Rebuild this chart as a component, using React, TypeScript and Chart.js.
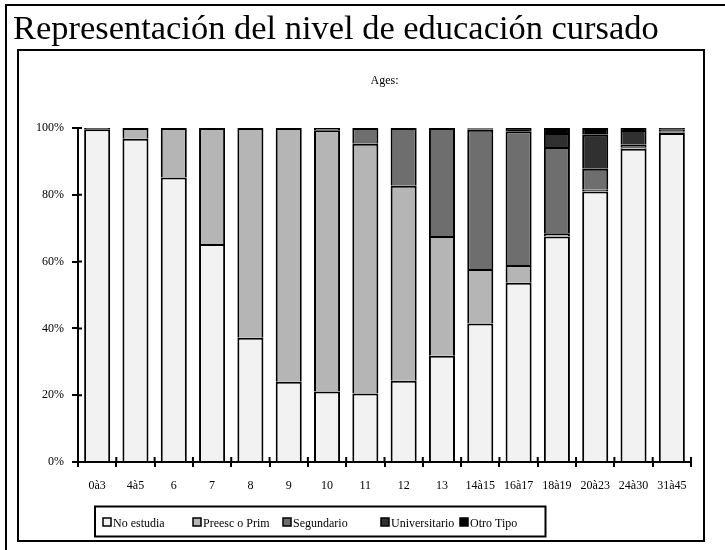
import React, { useEffect, useRef } from 'react';
import { Chart, registerables } from 'chart.js';

Chart.register(...registerables);

const categories = ['0à3', '4à5', '6', '7', '8', '9', '10', '11', '12', '13', '14à15', '16à17', '18à19', '20à23', '24à30', '31à45'];
const noEstudia = [99.6, 96.8, 85.2, 65.3, 37.2, 24.0, 21.1, 20.5, 24.3, 31.8, 41.5, 53.7, 67.5, 81.0, 93.8, 98.5];
const preescPrim = [0.4, 3.2, 14.8, 34.7, 62.8, 76.0, 78.2, 74.8, 58.4, 35.9, 16.3, 5.3, 1.0, 0.5, 0.4, 0.2];
const segundario = [0, 0, 0, 0, 0, 0, 0.7, 4.7, 17.3, 32.3, 41.7, 40.0, 25.8, 6.3, 0.8, 0.3];
const universitario = [0, 0, 0, 0, 0, 0, 0, 0, 0, 0, 0.3, 0, 4.2, 10.2, 4.4, 0.6];
const otroTipo = [0, 0, 0, 0, 0, 0, 0, 0, 0, 0, 0.2, 1.0, 1.5, 2.0, 0.6, 0.4];

const seriesLabels = ['No estudia', 'Preesc o Prim', 'Segundario', 'Universitario', 'Otro Tipo'];
const seriesData = [noEstudia, preescPrim, segundario, universitario, otroTipo];
const seriesColors = ['#f2f2f2', '#b5b5b5', '#6e6e6e', '#303030', '#000000'];

const titleText = 'Representación del nivel de educación cursado';
const axisTitle = 'Ages:';

const FONT = '"Liberation Serif", "Times New Roman", serif';
const LEGEND_X = [103, 193, 283, 381, 460];

const framePlugin = {
  id: 'framePlugin',
  beforeDraw(chart: any) {
    const ctx = chart.ctx;
    ctx.save();
    ctx.fillStyle = '#ffffff';
    ctx.fillRect(0, 0, chart.width, chart.height);
    ctx.strokeStyle = '#000';
    ctx.lineWidth = 2;
    ctx.beginPath();
    ctx.moveTo(6, chart.height + 2);
    ctx.lineTo(6, 5);
    ctx.lineTo(chart.width + 2, 5);
    ctx.stroke();
    ctx.strokeRect(18, 50, 686, 491);
    const ca = chart.chartArea;
    ctx.fillStyle = '#000';
    ctx.font = `12px ${FONT}`;
    ctx.textAlign = 'center';
    ctx.textBaseline = 'alphabetic';
    ctx.fillText(axisTitle, (ca.left + ca.right) / 2, 84);
    ctx.restore();
  },
  afterDraw(chart: any) {
    const ctx = chart.ctx;
    const xs = chart.scales.x;
    const ys = chart.scales.y;
    ctx.save();
    ctx.strokeStyle = '#000';
    ctx.lineWidth = 2;
    ctx.beginPath();
    ys.ticks.forEach((_t: any, i: number) => {
      const py = ys.getPixelForTick(i);
      ctx.moveTo(ys.right - 1, py);
      ctx.lineTo(ys.right + 4, py);
    });
    for (let i = 0; i <= categories.length; i++) {
      const px = xs.getPixelForValue(i - 0.5);
      ctx.moveTo(px, xs.top + 1);
      ctx.lineTo(px, xs.top - 5);
    }
    ctx.stroke();

    // legend
    ctx.lineWidth = 2;
    ctx.strokeRect(95, 506.5, 450.5, 30);
    ctx.font = `12px ${FONT}`;
    ctx.textAlign = 'left';
    ctx.textBaseline = 'alphabetic';
    chart.data.datasets.forEach((ds: any, i: number) => {
      const x0 = LEGEND_X[i];
      ctx.fillStyle = ds.backgroundColor;
      ctx.fillRect(x0, 518, 8, 8);
      ctx.lineWidth = 1.5;
      ctx.strokeStyle = '#000';
      ctx.strokeRect(x0, 518, 8, 8);
      ctx.fillStyle = '#000';
      ctx.fillText(ds.label, x0 + 10, 526.5);
    });
    ctx.restore();
  },
};

export default function App() {
  const ref = useRef<HTMLCanvasElement | null>(null);

  useEffect(() => {
    if (!ref.current) return;
    const chart = new Chart(ref.current, {
      type: 'bar',
      data: {
        labels: categories,
        datasets: seriesLabels.map((label, i) => ({
          label,
          data: seriesData[i],
          backgroundColor: seriesColors[i],
          borderColor: '#000',
          borderWidth: 2,
          borderSkipped: 'start',
          barPercentage: 0.68,
          categoryPercentage: 1,
        })),
      },
      options: {
        animation: false,
        responsive: false,
        events: [],
        layout: { padding: { left: 0, right: 34, top: 128, bottom: 0 } },
        plugins: {
          legend: { display: false },
          title: { display: false },
          tooltip: { enabled: false },
        },
        scales: {
          x: {
            stacked: true,
            offset: true,
            grid: { offset: true, drawOnChartArea: false, color: '#000', lineWidth: 2, tickLength: 5 },
            border: { color: '#000', width: 2 },
            ticks: { font: { family: FONT, size: 12 }, color: '#000', padding: 12, maxRotation: 0, autoSkip: false },
            afterFit: (s: any) => { s.height = 88; },
          },
          y: {
            stacked: true,
            min: 0,
            max: 100,
            grid: { drawOnChartArea: false, color: '#000', lineWidth: 2, tickLength: 6 },
            border: { color: '#000', width: 2 },
            ticks: {
              stepSize: 20,
              font: { family: FONT, size: 12 },
              color: '#000',
              padding: 8,
              callback: (v: any) => `${v}%`,
            },
            afterFit: (s: any) => { s.width = 78; },
          },
        },
      },
      plugins: [framePlugin],
    } as any);
    return () => chart.destroy();
  }, []);

  return (
    <div>
      <canvas
        ref={ref}
        width={725}
        height={550}
        style={{ position: 'fixed', left: 0, top: 0, width: 725, height: 550, display: 'block' }}
      />
      <div
        style={{
          position: 'fixed',
          left: 13,
          top: 12,
          fontFamily: FONT,
          fontSize: 33,
          lineHeight: '33px',
          color: '#000',
          whiteSpace: 'nowrap',
          transform: 'scaleX(1.044)',
          transformOrigin: 'left top',
        }}
      >
        {titleText}
      </div>
    </div>
  );
}
